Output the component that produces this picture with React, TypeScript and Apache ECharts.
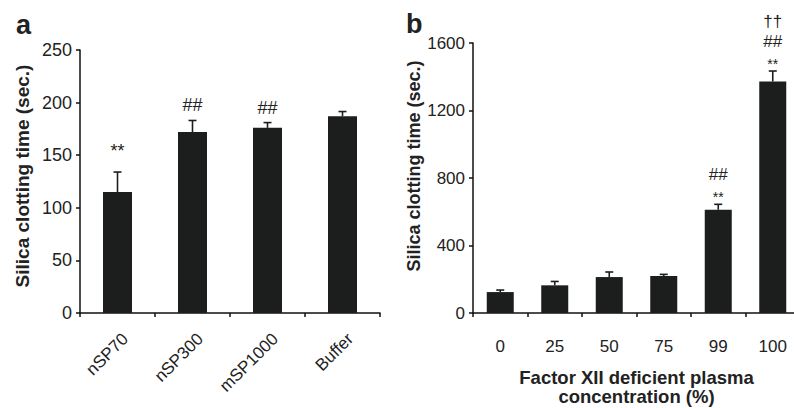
import React, { useEffect, useRef } from "react";
import * as echarts from "echarts";

// Panel a
const catsA = ["nSP70", "nSP300", "mSP1000", "Buffer"];
const valsA = [115, 172, 176, 187];
const errA = [19, 11, 5, 4.5];
const annotA = [["**"], ["##"], ["##"], []];
const yTicksA = { min: 0, max: 250, interval: 50 };

// Panel b
const catsB = ["0", "25", "50", "75", "99", "100"];
const valsB = [124, 164, 213, 219, 612, 1372];
const errB = [12, 23, 30, 10, 32, 62];
const annotB = [[], [], [], [], ["**", "##"], ["**", "##", "††"]];
const yTicksB = { min: 0, max: 1600, interval: 400 };

const FONT = "'Liberation Sans', Arial, Helvetica, sans-serif";
const INK = "#1b1e1d";
const TXT = "#222222";

// annotation style per panel: box-center offset above error top, font size
const annStyleA: Record<string, { off: number; size: number }> = {
  "**": { off: 21, size: 18 },
  "##": { off: 15, size: 18 },
};
const annStyleB: Record<string, { off: number; size: number }> = {
  "**": { off: 7, size: 14 },
  "##": { off: 30, size: 17 },
  "††": { off: 49.5, size: 17 },
};

function makeErrRender(annots: string[][], styles: Record<string, { off: number; size: number }>) {
  return (params: any, api: any) => {
    const x = api.value(0);
    const v = api.value(1);
    const e = api.value(2);
    const p0 = api.coord([x, v]);
    const p1 = api.coord([x, v + e]);
    const cap = 4;
    const children: any[] = [
      {
        type: "line",
        shape: { x1: p0[0], y1: p0[1], x2: p1[0], y2: p1[1] },
        style: { stroke: INK, lineWidth: 1.6 },
      },
      {
        type: "line",
        shape: { x1: p1[0] - cap, y1: p1[1], x2: p1[0] + cap, y2: p1[1] },
        style: { stroke: INK, lineWidth: 1.6 },
      },
    ];
    const list = annots[params.dataIndex] || [];
    list.forEach((t) => {
      const st = styles[t];
      children.push({
        type: "text",
        style: {
          text: t,
          x: p1[0],
          y: p1[1] - st.off,
          align: "center",
          verticalAlign: "middle",
          fontSize: st.size,
          fontFamily: FONT,
          fill: TXT,
        },
      });
    });
    return { type: "group", children };
  };
}

export default function App() {
  const ref = useRef<HTMLDivElement>(null);
  useEffect(() => {
    if (!ref.current) return;
    const chart = echarts.init(ref.current, undefined, { renderer: "svg" });
    const axisLine = { show: true, lineStyle: { color: "#111", width: 1.5 } };
    const axisTick = { show: true, inside: false, length: 4, lineStyle: { color: "#111", width: 1.5 } };
    chart.setOption({
      animation: false,
      backgroundColor: "#ffffff",
      title: [
        { text: "a", left: 11, top: 6, textStyle: { fontSize: 27, fontWeight: "bold", color: "#222", fontFamily: FONT } },
        { text: "b", left: 401, top: 5, textStyle: { fontSize: 27, fontWeight: "bold", color: "#222", fontFamily: FONT } },
      ],
      grid: [
        { left: 80, top: 50, width: 300, height: 263, outerBoundsMode: "none", containLabel: false },
        { left: 473, top: 43, width: 327, height: 270, outerBoundsMode: "none", containLabel: false },
      ],
      xAxis: [
        {
          type: "category",
          gridIndex: 0,
          data: catsA,
          axisLine,
          axisTick,
          axisLabel: {
            rotate: 45,
            margin: 31,
            fontSize: 17,
            color: TXT,
            fontFamily: FONT,
            padding: [0, -11, 0, 0],
          },
        },
        {
          type: "category",
          gridIndex: 1,
          data: catsB,
          axisLine,
          axisTick,
          axisLabel: { margin: 25, fontSize: 17, color: TXT, fontFamily: FONT },
          name: "Factor XII deficient plasma\nconcentration (%)",
          nameLocation: "middle",
          nameGap: 55,
          nameTextStyle: { fontSize: 18.5, fontWeight: "bold", color: TXT, fontFamily: FONT, lineHeight: 19 },
        },
      ],
      yAxis: [
        {
          type: "value",
          gridIndex: 0,
          ...yTicksA,
          axisLine,
          axisTick,
          splitLine: { show: false },
          axisLabel: { margin: 8, fontSize: 18, color: TXT, fontFamily: FONT },
          name: "Silica clotting time (sec.)",
          nameLocation: "middle",
          nameGap: 48,
          nameTextStyle: { fontSize: 19, fontWeight: "bold", color: TXT, fontFamily: FONT, padding: [0, 0, 0, 11] },
        },
        {
          type: "value",
          gridIndex: 1,
          ...yTicksB,
          axisLine,
          axisTick,
          splitLine: { show: false },
          axisLabel: { margin: 8, fontSize: 17, color: TXT, fontFamily: FONT, formatter: (v: number) => String(v) },
          name: "Silica clotting time (sec.)",
          nameLocation: "middle",
          nameGap: 42,
          nameTextStyle: { fontSize: 18, fontWeight: "bold", color: TXT, fontFamily: FONT, padding: [0, 0, 0, 24] },
        },
      ],
      series: [
        {
          type: "bar",
          xAxisIndex: 0,
          yAxisIndex: 0,
          data: valsA,
          barWidth: 29,
          itemStyle: { color: INK },
        },
        {
          type: "custom",
          xAxisIndex: 0,
          yAxisIndex: 0,
          data: valsA.map((v, i) => [i, v, errA[i]]),
          renderItem: makeErrRender(annotA, annStyleA),
          z: 5,
        },
        {
          type: "bar",
          xAxisIndex: 1,
          yAxisIndex: 1,
          data: valsB,
          barWidth: 27,
          itemStyle: { color: INK },
        },
        {
          type: "custom",
          xAxisIndex: 1,
          yAxisIndex: 1,
          data: valsB.map((v, i) => [i, v, errB[i]]),
          renderItem: makeErrRender(annotB, annStyleB),
          z: 5,
        },
      ],
    });
    return () => chart.dispose();
  }, []);
  return (
    <div
      ref={ref}
      style={{ position: "fixed", left: 0, top: 0, width: 794, height: 408, background: "#fff" }}
    />
  );
}
